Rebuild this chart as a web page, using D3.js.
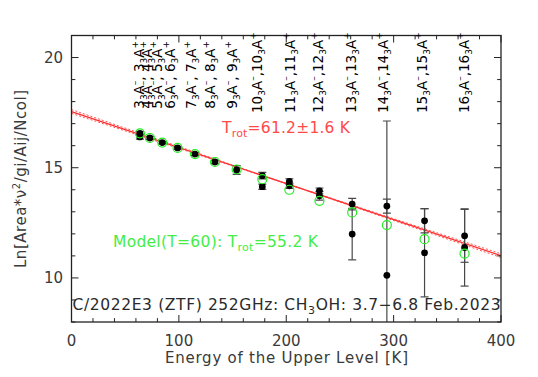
<!DOCTYPE html>
<html>
<head>
<meta charset="utf-8">
<script src="https://cdn.jsdelivr.net/npm/d3@7"></script>
<style>
  body { margin: 0; background: #fff; }
  text { font-family: "DejaVu Sans", sans-serif; white-space: pre; }
</style>
</head>
<body>
<div id="chart"></div>
<script>
var w = 538, h = 377;

// upper level energies [K] of the J_3 A-/A+ lines
var energies = [63.7, 73.0, 84.5, 98.8, 115.0, 133.6, 153.8, 177.7, 202.9, 230.9, 261.4, 293.7, 328.8, 366.1];
// observed Ln values, first epoch
var obsA = [16.56, 16.35, 16.14, 15.90, 15.62, 15.26, 14.90, 14.64, 14.38, 13.95, 13.35, 13.26, 12.59, 11.91];
var errA = [0.08, 0.06, 0.06, 0.06, 0.07, 0.08, 0.2, 0.15, 0.12, 0.13, 0.26, 0.32, 0.55, 1.2];
// second set of points (null where none)
var obsB = [16.40, null, null, null, null, null, null, 14.14, 14.18, 13.73, 11.99, 10.12, 11.14, 11.38];
var errB = [0.1, null, null, null, null, null, null, 0.12, 0.12, 0.2, 1.17, 7.0, 2.0, 1.75];
// model (T=60)
var model = [16.56, 16.35, 16.14, 15.90, 15.62, 15.26, 14.92, 14.48, 14.00, 13.50, 12.97, 12.40, 11.76, 11.10];

// transition labels at top
var labelJ = [3, 4, 5, 6, 7, 8, 9, 10, 11, 12, 13, 14, 15, 16];
var labelE = [67.4, 74.9, 83.9, 96.3, 115.6, 133.6, 153.8, 177.4, 208.2, 234.6, 264.8, 295.2, 331.0, 369.8];

// rotation diagram fit
var trot = 61.2, trotErr = 1.6, fitIntercept = 17.55, pivotE = 200;
var modelTrot = 55.2;

var svg = d3.select("#chart").append("svg")
    .attr("width", w)
    .attr("height", h);

var x = d3.scaleLinear().domain([0, 400]).range([71.5, 501]);
var y = d3.scaleLinear().domain([8, 21]).range([322, 35.5]);

svg.append("defs").append("clipPath").attr("id", "plotClip")
    .append("rect")
    .attr("x", x(0)).attr("y", y(21))
    .attr("width", x(400) - x(0)).attr("height", y(8) - y(21));

var plot = svg.append("g").attr("clip-path", "url(#plotClip)");

// fit lines
function fitLine(t) {
    var yp = fitIntercept - pivotE / trot;
    return [0, 400].map((e) => [x(e), y(yp - (e - pivotE) / t)]);
}
var line = d3.line();
plot.append("path")
    .attr("d", line(fitLine(trot)))
    .style("stroke", "#ff2a2a").style("stroke-width", 1.3).style("fill", "none");
[trot - trotErr, trot + trotErr].forEach(function (t) {
    plot.append("path")
        .attr("d", line(fitLine(t)))
        .style("stroke", "#ff4040").style("stroke-width", 0.9)
        .style("stroke-dasharray", "2,2").style("fill", "none");
});

// observed points with error bars
var pts = [];
energies.forEach(function (e, i) {
    pts.push({ e: e, v: obsA[i], err: errA[i] });
    if (obsB[i] != null) pts.push({ e: e, v: obsB[i], err: errB[i] });
});

var bars = plot.selectAll(".err")
    .data(pts)
    .enter()
    .append("g")
    .attr("class", "err")
    .style("stroke", "#484848")
    .style("stroke-width", 1.2);
bars.append("line")
    .attr("x1", (d) => x(d.e)).attr("x2", (d) => x(d.e))
    .attr("y1", (d) => y(d.v + d.err)).attr("y2", (d) => y(d.v - d.err));
bars.append("line")
    .attr("x1", (d) => x(d.e) - 4).attr("x2", (d) => x(d.e) + 4)
    .attr("y1", (d) => y(d.v + d.err)).attr("y2", (d) => y(d.v + d.err));
bars.append("line")
    .attr("x1", (d) => x(d.e) - 4).attr("x2", (d) => x(d.e) + 4)
    .attr("y1", (d) => y(d.v - d.err)).attr("y2", (d) => y(d.v - d.err));

plot.selectAll(".obs")
    .data(pts)
    .enter()
    .append("circle")
    .attr("class", "obs")
    .attr("cx", (d) => x(d.e))
    .attr("cy", (d) => y(d.v))
    .attr("r", 3.4)
    .style("fill", "#000");

plot.selectAll(".model")
    .data(model)
    .enter()
    .append("circle")
    .attr("class", "model")
    .attr("cx", (d, i) => x(energies[i]))
    .attr("cy", (d) => y(d))
    .attr("r", 4.5)
    .style("fill", "none")
    .style("stroke", "#22ee22")
    .style("stroke-width", 1.2);

// axes: ticks inward on all four sides
var axisCol = "#222";
var xMinor = d3.range(0, 401, 20);
var yMinor = d3.range(8, 21.01, 1);

function drawTicks(vals, isMajor, pos, len, dir) {
    vals.forEach(function (v) {
        var L = isMajor(v) ? len : len * 0.55;
        var l = svg.append("line").style("stroke", axisCol).style("stroke-width", 1);
        if (dir == "up" || dir == "down") {
            var s = dir == "up" ? -1 : 1;
            l.attr("x1", x(v)).attr("x2", x(v)).attr("y1", pos).attr("y2", pos + s * L);
        } else {
            var s2 = dir == "left" ? -1 : 1;
            l.attr("y1", y(v)).attr("y2", y(v)).attr("x1", pos).attr("x2", pos + s2 * L);
        }
    });
}
drawTicks(xMinor, (v) => v % 100 == 0, y(8), 7, "up");
drawTicks(xMinor, (v) => v % 100 == 0, y(21), 7, "down");
drawTicks(yMinor, (v) => v % 5 == 0, x(0), 7, "right");
drawTicks(yMinor, (v) => v % 5 == 0, x(400), 7, "left");

svg.append("rect")
    .attr("x", x(0)).attr("y", y(21))
    .attr("width", x(400) - x(0)).attr("height", y(8) - y(21))
    .style("fill", "none").style("stroke", axisCol).style("stroke-width", 1.3);

// tick labels
svg.selectAll(".xlab")
    .data(d3.range(0, 401, 100))
    .enter()
    .append("text")
    .attr("x", (d) => x(d))
    .attr("y", 346)
    .attr("text-anchor", "middle")
    .style("font-size", "15px").style("fill", "#3a3a3a")
    .text((d) => d);

svg.selectAll(".ylab")
    .data([10, 15, 20])
    .enter()
    .append("text")
    .attr("x", 63)
    .attr("y", (d) => y(d) + 5.5)
    .attr("text-anchor", "end")
    .style("font-size", "15px").style("fill", "#3a3a3a")
    .text((d) => d);

// axis titles
svg.append("text")
    .attr("x", 165)
    .attr("y", 363)
    .attr("textLength", 243)
    .attr("lengthAdjust", "spacing")
    .style("font-size", "15px").style("fill", "#3a3a3a")
    .text("Energy of the Upper Level [K]");

var yt = svg.append("text")
    .attr("transform", `translate(26, 268) rotate(-90)`)
    .attr("textLength", 178)
    .attr("lengthAdjust", "spacing")
    .style("font-size", "15px").style("fill", "#3a3a3a");
yt.append("tspan").text("Ln[Area*\u03bd");
yt.append("tspan").attr("dy", -6).style("font-size", "10px").text("2");
yt.append("tspan").attr("dy", 6).text("/gi/Aij/Ncol]");

// transition labels
labelJ.forEach(function (j, i) {
    var jj = (j < 10 ? " " : "") + j;
    var t = svg.append("text")
        .attr("transform", `translate(${x(labelE[i])}, 113) rotate(-90)`)
        .style("font-size", "13.5px").style("fill", "#000");
    t.append("tspan").text(jj);
    t.append("tspan").attr("dy", 3).style("font-size", "9px").text("3");
    t.append("tspan").attr("dy", -3).text("A");
    t.append("tspan").attr("dy", -6).style("font-size", "9px").text("\u2013");
    t.append("tspan").attr("dy", 6).text("," + jj);
    t.append("tspan").attr("dy", 3).style("font-size", "9px").text("3");
    t.append("tspan").attr("dy", -3).text("A");
    t.append("tspan").attr("dy", -6).style("font-size", "9px").text("+");
});

// annotations
var red = svg.append("text")
    .attr("x", 222).attr("y", 133)
    .attr("textLength", 128)
    .attr("lengthAdjust", "spacing")
    .style("font-size", "15.5px").style("fill", "#ff4a4a");
red.append("tspan").text("T");
red.append("tspan").attr("dy", 4).style("font-size", "11px").text("rot");
red.append("tspan").attr("dy", -4).text(`=${trot}\u00b1${trotErr} K`);

var green = svg.append("text")
    .attr("x", 113).attr("y", 247)
    .attr("textLength", 205)
    .attr("lengthAdjust", "spacing")
    .style("font-size", "15.5px").style("fill", "#44ee44");
green.append("tspan").text("Model(T=60): T");
green.append("tspan").attr("dy", 4).style("font-size", "11px").text("rot");
green.append("tspan").attr("dy", -4).text(`=${modelTrot} K`);

var title = svg.append("text")
    .attr("x", 72.5).attr("y", 310)
    .attr("textLength", 428)
    .attr("lengthAdjust", "spacing")
    .style("font-size", "15.5px").style("fill", "#2a2a2a");
title.append("tspan").text("C/2022E3 (ZTF) 252GHz: CH");
title.append("tspan").attr("dy", 4).style("font-size", "11px").text("3");
title.append("tspan").attr("dy", -4).text("OH: 3.7\u22126.8 Feb.2023");
</script>
</body>
</html>
